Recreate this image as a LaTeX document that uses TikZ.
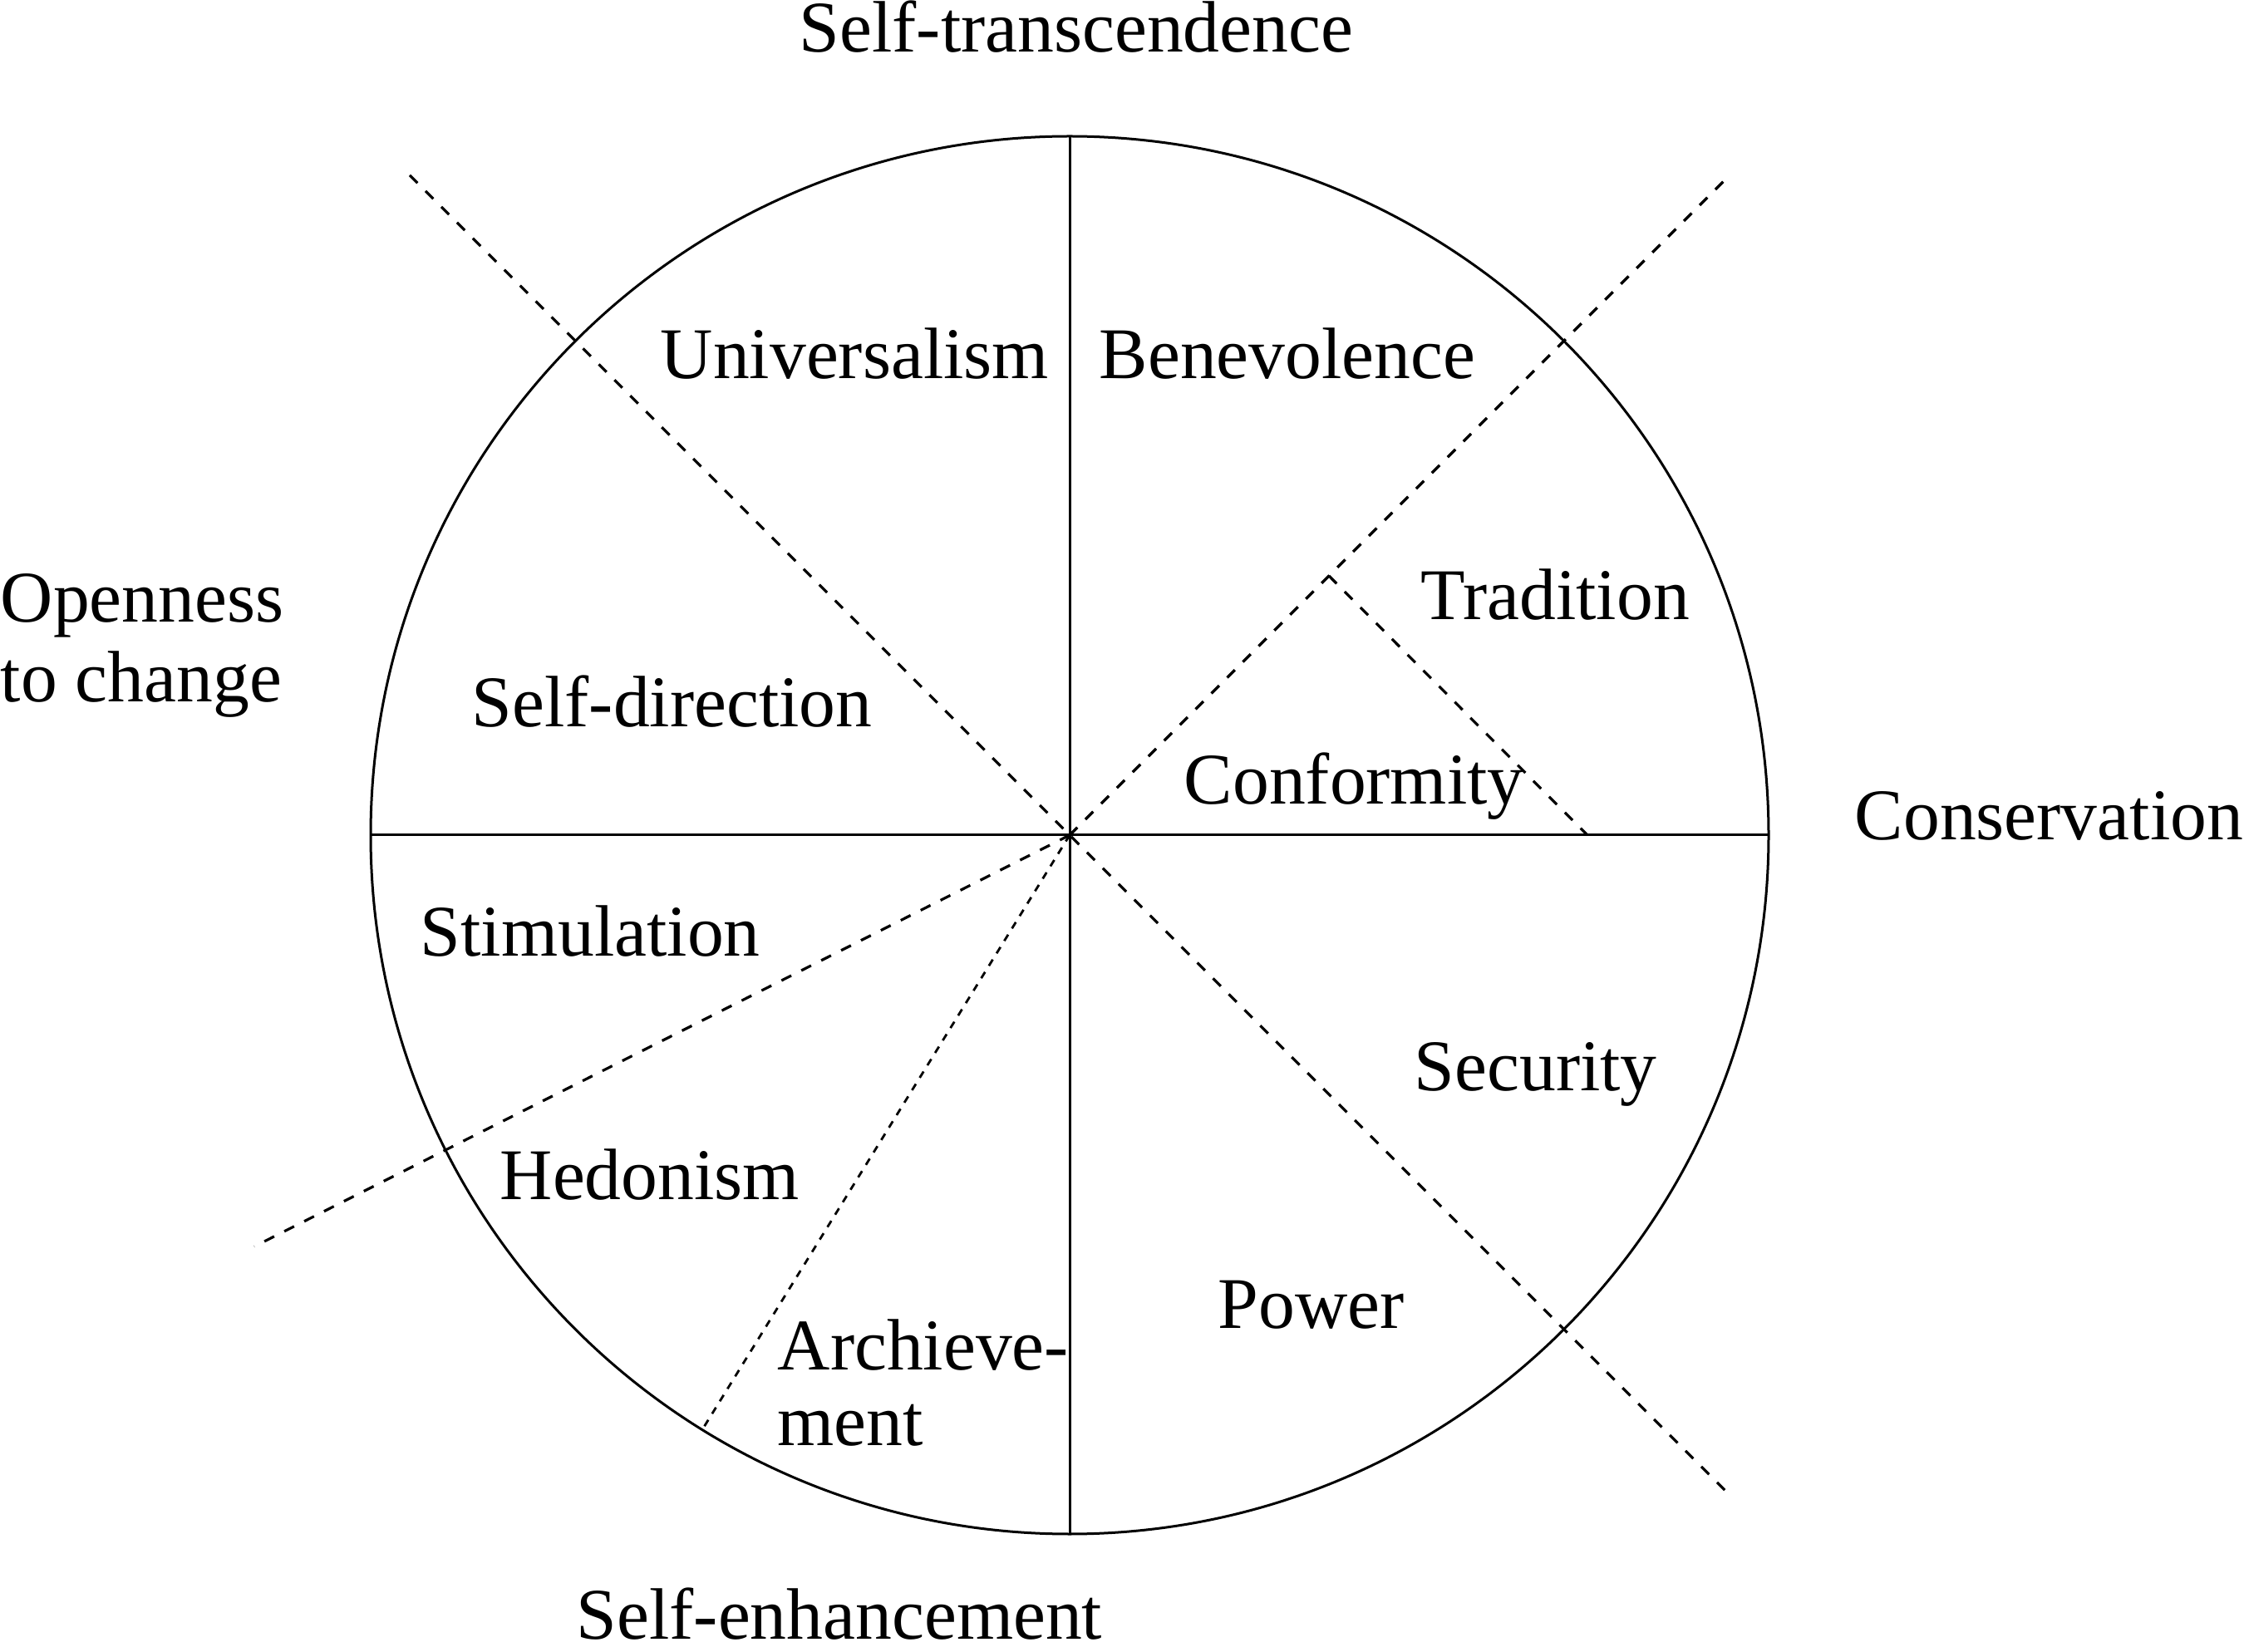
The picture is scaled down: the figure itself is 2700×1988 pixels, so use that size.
\documentclass[tikz,border=0pt]{standalone}
\usepackage{fontspec}
\setmainfont{Liberation Serif}
\begin{document}
\begin{tikzpicture}[x=0.25pt,y=-0.25pt,
  lbl/.style={anchor=base west,inner sep=0pt,font=\fontsize{21.9}{26}\selectfont},
  solidline/.style={line width=0.75pt},
  dashline/.style={line width=0.8pt,dash pattern=on 3.3pt off 3.4pt},
  fineline/.style={line width=0.7pt,dash pattern=on 2.2pt off 2.2pt}]
\useasboundingbox (0,0) rectangle (2700,1988);
% geometry
\coordinate (C) at (1287,1005);
\coordinate (T) at (1287,164);
\coordinate (B) at (1287,1846);
\coordinate (L) at (447,1005);
\coordinate (R) at (2128,1005);
\coordinate (NW) at (493,211);
\coordinate (SE) at (2081,1799);
\coordinate (NE) at (2081,211);
\coordinate (CF1) at (1599,693);
\coordinate (CF2) at (1910,1005);
\coordinate (SW) at (306,1500);
\coordinate (SSW) at (844,1722);
% circle and axes
\draw[solidline] (C) circle [radius=210.25pt];
\draw[solidline] (T) -- (B);
\draw[solidline] (L) -- (R);
% dashed dividers
\draw[dashline] (NW) -- (SE);
\draw[dashline] (C) -- (NE);
\draw[dashline] (CF1) -- (CF2);
\draw[dashline] (C) -- (SW);
\draw[fineline] (C) -- (SSW);
% outer labels
\node[lbl] (st) at (961,63) {Self-transcendence};
\node[lbl] (op1) at (0,749) {Openness};
\node[lbl] (op2) at (0,845) {to change};
\node[lbl] (cons) at (2231,1011) {Conservation};
\node[lbl] (se) at (693,1972) {Self-enhancement};
% inner labels
\node[lbl] (uni) at (794,456) {Universalism};
\node[lbl] (ben) at (1322,456) {Benevolence};
\node[lbl] (tra) at (1709,746) {Tradition};
\node[lbl] (sd) at (567,875) {Self-direction};
\node[lbl] (con) at (1424,968) {Conformity};
\node[lbl] (sti) at (505,1150) {Stimulation};
\node[lbl] (sec) at (1701,1312) {Security};
\node[lbl] (hed) at (601,1443) {Hedonism};
\node[lbl] (pow) at (1465,1598) {Power};
\node[lbl] (ach1) at (935,1648) {Archieve-};
\node[lbl] (ach2) at (935,1739) {ment};
\end{tikzpicture}
\end{document}
